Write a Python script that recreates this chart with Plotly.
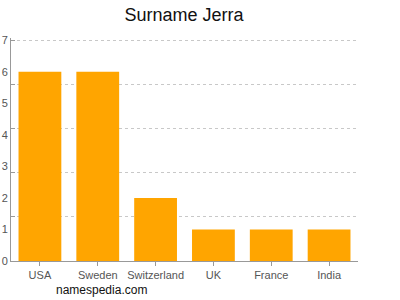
import plotly.graph_objects as go

countries = ["USA", "Sweden", "Switzerland", "UK", "France", "India"]
counts = [6, 6, 2, 1, 1, 1]
y_ticks = [0, 1, 2, 3, 4, 5, 6, 7]
grid_ticks = [1.4, 2.8, 4.2, 5.6, 7.0]

fig = go.Figure()
fig.add_trace(go.Bar(x=countries, y=counts, marker_color="#FFA500",
                     marker_line_width=0, yaxis="y"))
# invisible trace to activate second y axis for gridlines
fig.add_trace(go.Scatter(x=countries, y=counts, yaxis="y2", mode="markers",
                         marker_opacity=0, hoverinfo="skip", showlegend=False))

fig.update_layout(
    width=400, height=300,
    margin=dict(l=11, r=42, t=38, b=39),
    paper_bgcolor="white", plot_bgcolor="white",
    showlegend=False, bargap=0.26,
    font=dict(family="Liberation Sans, Arial, sans-serif", color="#555", size=11),
    title=dict(text="Surname Jerra", x=0.46, xanchor="center", y=0.95, yanchor="middle",
               font=dict(size=18, color="#111")),
    xaxis=dict(showline=True, linecolor="#999", linewidth=1, ticks="outside",
               ticklen=4, tickcolor="#999", showgrid=False, fixedrange=True,
               automargin=False),
    yaxis=dict(range=[0, 7.07], tickvals=y_ticks, showline=True, linecolor="#999",
               linewidth=1, ticks="", showgrid=False, zeroline=False,
               automargin=False),
    yaxis2=dict(range=[0, 7.07], tickvals=grid_ticks, overlaying="y", side="left",
                showticklabels=False, showgrid=True, gridcolor="#c8c8c8",
                griddash="3px,3px", gridwidth=1, ticks="inside", ticklen=4,
                tickcolor="#999", zeroline=False, showline=False,
                automargin=False),
    annotations=[dict(text="namespedia.com", xref="paper", yref="paper",
                      x=0.26, y=-0.13, xanchor="center", yanchor="middle",
                      showarrow=False, font=dict(size=12, color="#111"))],
)
fig.write_html("out.html")
